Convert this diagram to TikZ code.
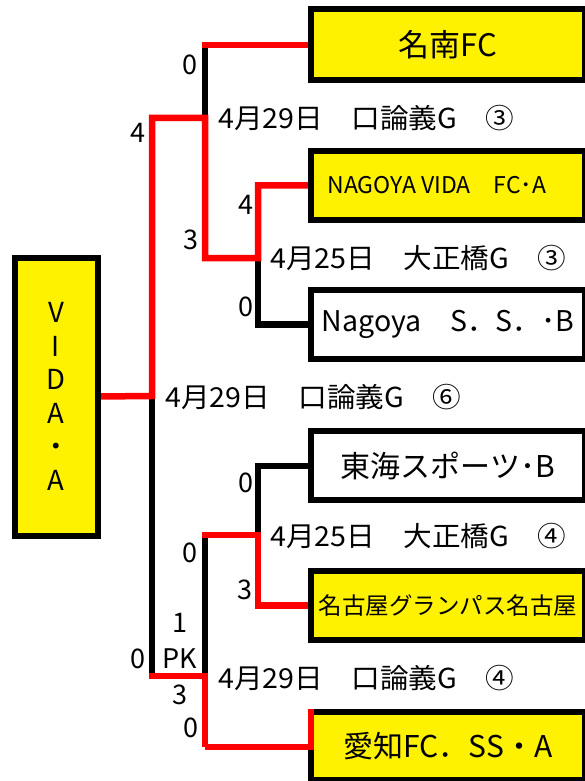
\documentclass[tikz,border=0pt]{standalone}
\usepackage{fontspec}
\setmainfont{Noto Sans CJK JP}
\newfontfamily\datefont[FakeStretch=1.04]{Noto Sans CJK JP}
\usetikzlibrary{calc,backgrounds}
\begin{document}
\begin{tikzpicture}[x=1pt,y=-1pt,
  teambox/.style={draw=black,line width=6pt,inner sep=0pt,outer sep=0pt,minimum width=274pt,minimum height=69pt},
  winbox/.style={teambox,fill=yellow},
  losebox/.style={teambox,fill=white},
  win/.style={draw=red,line width=6.5pt},
  lose/.style={draw=black,line width=6.5pt},
  score/.style={inner sep=0pt,font=\fontsize{27}{27}\selectfont},
  datelbl/.style={anchor=west,inner sep=0pt,font=\datefont\fontsize{27.5}{27.5}\selectfont}
]
\useasboundingbox (0,0) rectangle (585,781);

% team boxes
\node[winbox,minimum width=83pt,minimum height=278pt,align=center,
      font=\fontsize{27.5}{33.5}\selectfont] (v) at (56,396.5)
      {V\\I\\D\\A\\・\\A};
\node[winbox,minimum height=71pt] (t1) at (448,45) {\fontsize{31}{31}\selectfont 名南FC};
\node[winbox] (t2) at (448,185.3) {\hspace*{-22pt}\fontsize{23}{23}\selectfont NAGOYA VIDA　FC･A};
\node[losebox] (t3) at (448,324.5) {\fontsize{28.5}{28.5}\selectfont Nagoya　S．S．･B};
\node[losebox] (t4) at (448,465.8) {\fontsize{30}{30}\selectfont 東海スポーツ･B};
\node[winbox] (t5) at (448,605.3) {\fontsize{23.5}{23.5}\selectfont 名古屋グランパス名古屋};
\node[winbox,minimum height=68pt] (t6) at (448,746) {\fontsize{30}{30}\selectfont 愛知FC．SS・A};

% joints
\coordinate (a1) at (202,45);
\coordinate (a2) at (205,118);
\coordinate (j1) at (152,118);
\coordinate (j2) at (205,258);
\coordinate (j3) at (258,258);
\coordinate (j4) at (258,185.3);
\coordinate (b1) at (152,396);
\coordinate (b2) at (152,676);
\coordinate (b0) at (149,676);
\coordinate (c1) at (205,676);
\coordinate (c2) at (205,747);
\coordinate (c4) at (205,535);
\coordinate (c0) at (202,535);
\coordinate (d1) at (258,535);
\coordinate (d2) at (258,605.3);
\coordinate (d3) at (258,465.8);
\coordinate (e1) at (205,45);
\coordinate (e2) at (258,324.5);

\begin{scope}[on background layer]
% losers
\draw[lose] (e1) -- (a2);
\draw[lose] (j3) -- (e2) -- (e2 -| t3.west);
\draw[lose] (b1) -- (b2);
\draw[lose] (c1) -- (c4);
\draw[lose] (d1) -- (d3) -- (d3 -| t4.west);
% winners
\draw[win] (v.east) -- (b1) -- (j1) -- (a2) -- (j2) -- (j3) -- (j4) -- (j4 -| t2.west);
\draw[win] (a1) -- (a1 -| t1.west);
\draw[win] (c0) -- (d1) -- (d2) -- (d2 -| t5.west);
\draw[win] (b0) -- (c1) -- (c2);
\end{scope}
\draw[win] (c2) -- (c2 -| t6.west) -- ($(t6.north west)+(0,-3)$);

% scores
\node[score] at (190,65) {0};
\node[score] at (138,133) {4};
\node[score] at (191,240) {3};
\node[score] at (246,205) {4};
\node[score] at (246,307) {0};
\node[score] at (246,483) {0};
\node[score] at (190,553) {0};
\node[score] at (245,590) {3};
\node[score] at (180,623) {1};
\node[score] at (138,659) {0};
\node[score] at (180,659) {PK};
\node[score] at (180,695) {3};
\node[score] at (191,728) {0};

% dates
\node[datelbl] at (218,118) {4月29日　口論義G　③};
\node[datelbl] at (270,258) {4月25日　大正橋G　③};
\node[datelbl] at (165,397) {4月29日　口論義G　⑥};
\node[datelbl] at (270,536) {4月25日　大正橋G　④};
\node[datelbl] at (218,678) {4月29日　口論義G　④};
\end{tikzpicture}
\end{document}
